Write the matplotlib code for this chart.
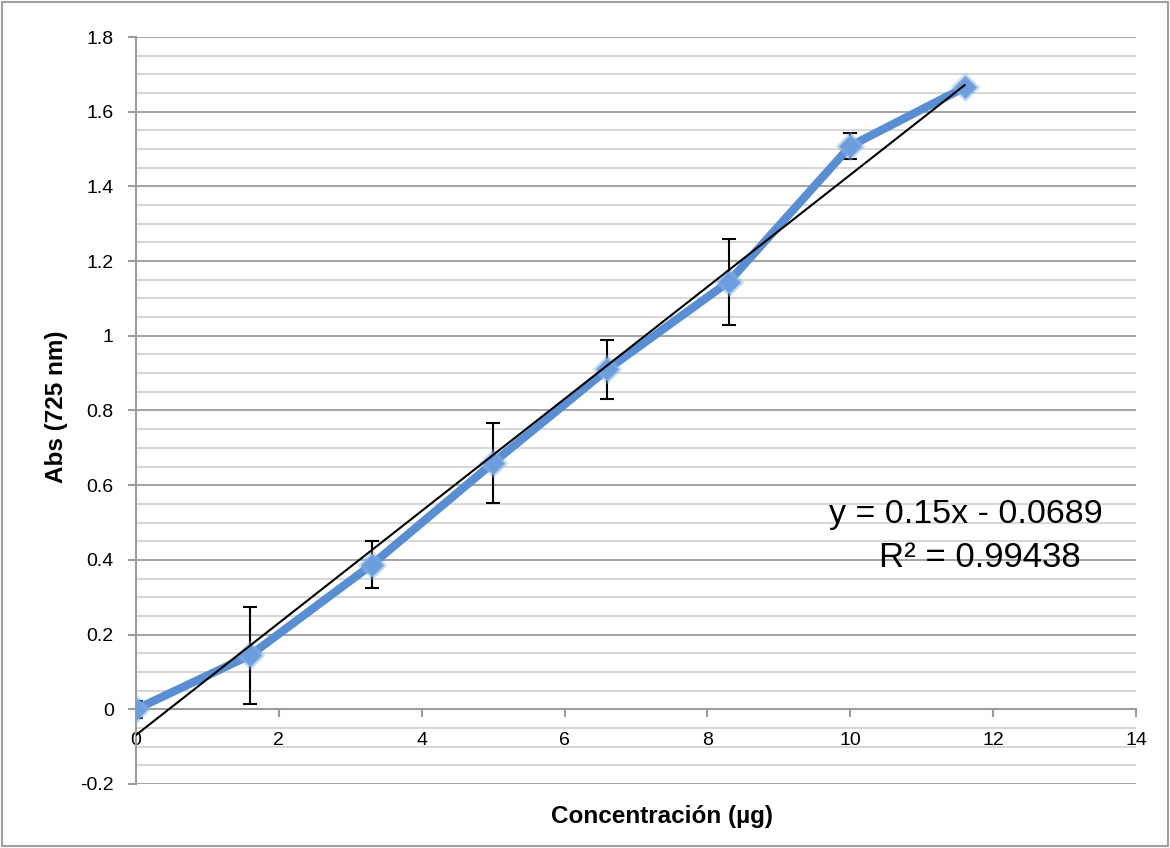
import matplotlib
matplotlib.use("Agg")
import matplotlib.pyplot as plt
from matplotlib.ticker import MultipleLocator
import numpy as np

conc = [0, 1.6, 3.3, 5.0, 6.6, 8.3, 10.0, 11.6]
absorb = [0.0, 0.145, 0.387, 0.66, 0.91, 1.145, 1.508, 1.665]
err = [0.022, 0.13, 0.063, 0.107, 0.08, 0.115, 0.034, 0.0]
slope = 0.15
intercept = -0.0689
r2_text = "R² = 0.99438"
eq_text = "y = 0.15x - 0.0689"
xticks = [0, 2, 4, 6, 8, 10, 12, 14]
yticks = [-0.2, 0, 0.2, 0.4, 0.6, 0.8, 1, 1.2, 1.4, 1.6, 1.8]
ytick_labels = ["-0.2", "0", "0.2", "0.4", "0.6", "0.8", "1", "1.2", "1.4", "1.6", "1.8"]

plt.rcParams['font.family'] = ['Liberation Sans', 'DejaVu Sans']

fig = plt.figure(figsize=(11.7, 8.48), dpi=100)
ax = fig.add_axes([136/1170, 1-784/848, 1000/1170, (784-37)/848])

for s in ['top', 'right']:
    ax.spines[s].set_visible(False)
ax.spines['left'].set_color('#9c9c9c')
ax.spines['left'].set_linewidth(1.5)
ax.spines['bottom'].set_position(('data', 0))
ax.spines['bottom'].set_color('#9c9c9c')
ax.spines['bottom'].set_linewidth(1.5)

ax.set_xlim(0, 14)
ax.set_ylim(-0.2, 1.8)
ax.yaxis.set_minor_locator(MultipleLocator(0.05))
ax.set_yticks(yticks)
ax.set_yticklabels(ytick_labels, fontsize=14)
ax.set_xticks(xticks)
ax.set_xticklabels([str(v) for v in xticks], fontsize=14)
ax.grid(which='major', axis='y', color='#9c9c9c', linewidth=1.3, zorder=0)
ax.grid(which='minor', axis='y', color='#d3d3d3', linewidth=1.3, zorder=0)
ax.set_axisbelow(True)

ax.tick_params(axis='y', which='major', length=6, width=1.5, color='#9c9c9c', pad=10, labelsize=14)
ax.tick_params(axis='y', which='minor', length=0)
ax.tick_params(axis='x', which='major', length=6, width=1.5, color='#9c9c9c', pad=10, labelsize=14)

ax.errorbar(conc, absorb, yerr=err, fmt='none', ecolor='black', elinewidth=1.5,
            capsize=5, capthick=1.5, zorder=3)
ax.plot(conc, absorb, color='#5A8ED2', linewidth=6, solid_capstyle='round', zorder=4)
ax.plot(conc, absorb, linestyle='none', marker='D', markersize=14,
        markerfacecolor='#8AB4E8', markeredgecolor='#8AB4E8', alpha=0.35, zorder=5)
ax.plot(conc, absorb, linestyle='none', marker='D', markersize=11,
        markerfacecolor='#6C9DDC', markeredgecolor='#7EAAE2', zorder=6)

xt = np.array([conc[0], conc[-1]])
ax.plot(xt, slope * xt + intercept, color='black', linewidth=1.5, zorder=7)

ax.text((966 - 136) / 1000 * 14, 0.4977, eq_text, fontsize=24.5, ha='center', va='baseline', zorder=8)
ax.text((980 - 136) / 1000 * 14, 0.380, r2_text, fontsize=25, ha='center', va='baseline', zorder=8)

ax.set_xlabel("Concentración (µg)", fontsize=17.5, fontweight='bold')
ax.xaxis.set_label_coords((662 - 136) / 1000, (784 - 816) / 747)
ax.xaxis.label.set_va('center')
ax.set_ylabel("Abs (725 nm)", fontsize=17.5, fontweight='bold')
ax.yaxis.set_label_coords((56 - 136) / 1000, (784 - 407) / 747)
ax.yaxis.label.set_va('center')

fig.patches.append(plt.Rectangle((0.002, 0.002), 0.996, 0.996, transform=fig.transFigure,
                                 fill=False, edgecolor='#a0a0a0', linewidth=1.5))

fig.savefig("out.png", dpi=100)
